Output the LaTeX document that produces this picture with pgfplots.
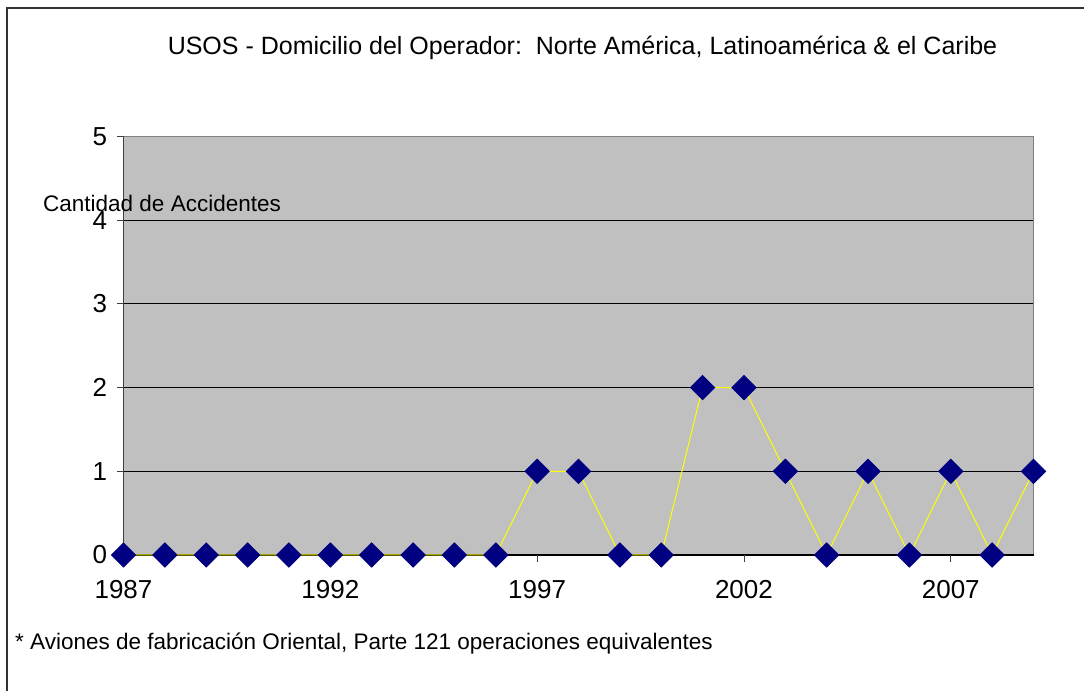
\documentclass[border=0pt]{standalone}
\usepackage{fontspec}
\setmainfont{Liberation Sans}
\usepackage{pgfplots}
\pgfplotsset{compat=1.18}
\definecolor{plotgray}{HTML}{C0C0C0}
\definecolor{navymark}{HTML}{000080}
\definecolor{lineyellow}{HTML}{FFFF00}
\definecolor{edgegray}{HTML}{808080}

\begin{document}
\begin{tikzpicture}
\useasboundingbox (0bp,0bp) rectangle (1084bp,691bp);
\fill[white] (0bp,0bp) rectangle (1084bp,691bp);
\draw[line width=1.5bp, black!80] (7bp,-20bp) -- (7bp,683bp) -- (1110bp,683bp);
\begin{axis}[
  at={(123.5bp,136bp)}, anchor=south west,
  scale only axis, width=910bp, height=418.5bp,
  xmin=1987, xmax=2009, ymin=0, ymax=5,
  xtick={1987,1992,...,2007}, ytick={0,...,5},
  xtick pos=left, ytick pos=left,
  tick align=outside, major tick length=7bp,
  tick style={black!75, line width=0.8bp},
  axis line style={draw=none},
  axis background/.style={fill=plotgray},
  ymajorgrids, major grid style={black, line width=0.8bp},
  clip=false,
  tick label style={font=\fontsize{26bp}{30bp}\selectfont},
  /pgf/number format/assume math mode=true,
  /pgf/number format/set thousands separator={},
  xticklabel style={yshift=-15bp},
  yticklabel style={xshift=-6bp},
]
\draw[edgegray, line width=1bp] (rel axis cs:0,1) -- (rel axis cs:1,1) -- (rel axis cs:1,0);
\draw[black!75, line width=1bp] (rel axis cs:0,0) -- (rel axis cs:0,1);
\draw[black, line width=1bp] (rel axis cs:0,0) -- (rel axis cs:1,0);
\addplot[lineyellow, line width=1bp, mark=square*, mark size=8.5bp,
  mark options={fill=navymark, draw=navymark, rotate=45, solid}]
  coordinates {
  (1987,0) (1988,0) (1989,0) (1990,0) (1991,0) (1992,0) (1993,0) (1994,0)
  (1995,0) (1996,0) (1997,1) (1998,1) (1999,0) (2000,0) (2001,2) (2002,2)
  (2003,1) (2004,0) (2005,1) (2006,0) (2007,1) (2008,0) (2009,1)
  };
\end{axis}
\node[anchor=base, inner sep=0pt, font=\fontsize{25bp}{30bp}\selectfont]
  at (582.5bp,636bp) {USOS - Domicilio del Operador:\ \ Norte América, Latinoamérica \& el Caribe};
\node[anchor=base west, inner sep=0pt, font=\fontsize{22.5bp}{27bp}\selectfont]
  at (43bp,479bp) {Cantidad de Accidentes};
\node[anchor=base west, inner sep=0pt, font=\fontsize{22.5bp}{27bp}\selectfont]
  at (15bp,41bp) {* Aviones de fabricación Oriental, Parte 121 operaciones equivalentes};
\end{tikzpicture}
\end{document}
